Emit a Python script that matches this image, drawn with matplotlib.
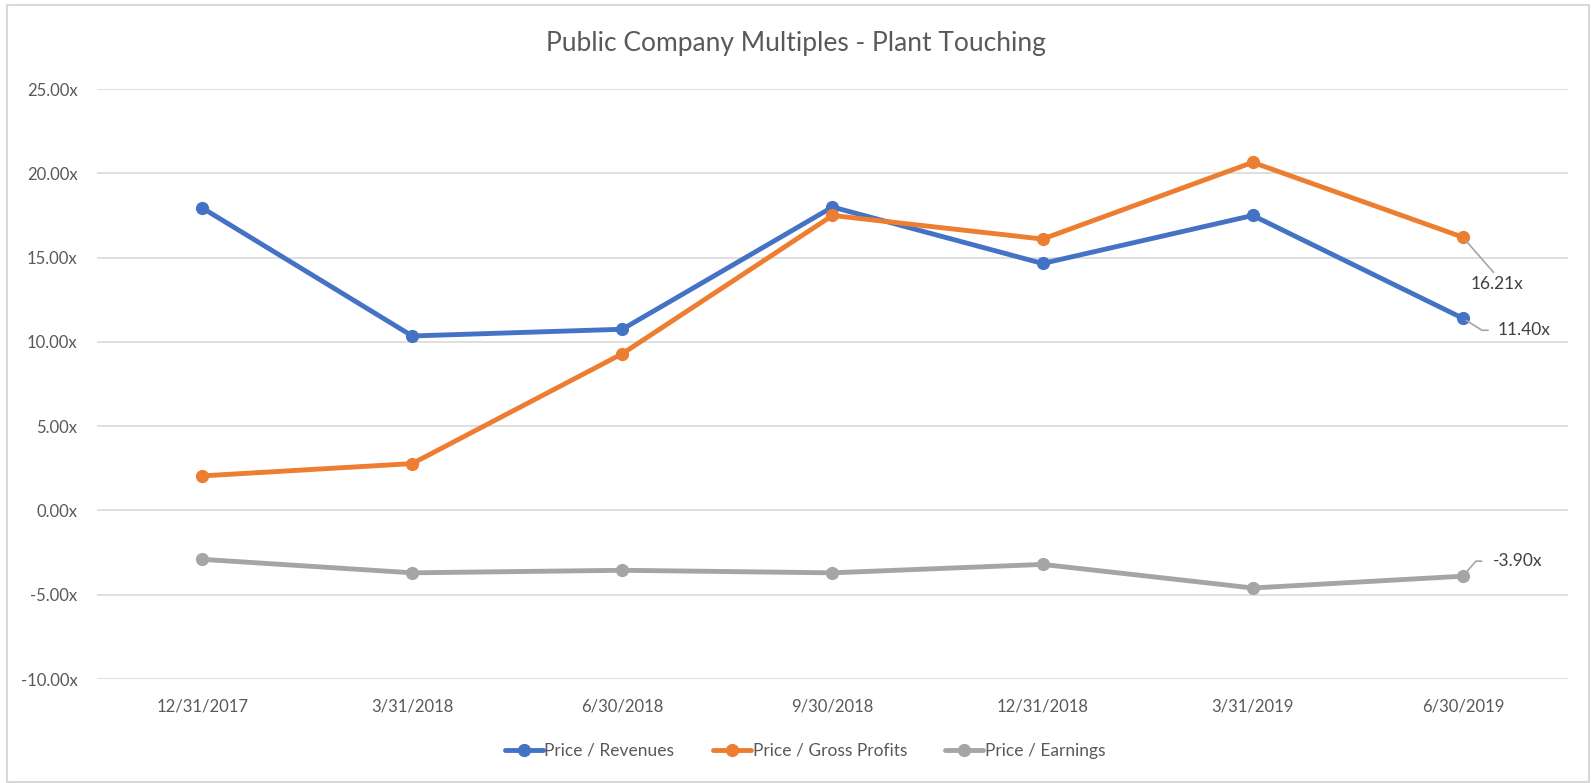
import matplotlib.pyplot as plt
from matplotlib.patches import Rectangle
from matplotlib.ticker import FuncFormatter

# Data
quarters = ["12/31/2017", "3/31/2018", "6/30/2018", "9/30/2018",
            "12/31/2018", "3/31/2019", "6/30/2019"]
price_revenues = [17.95, 10.35, 10.75, 18.00, 14.65, 17.50, 11.40]
price_gross_profits = [2.05, 2.78, 9.30, 17.50, 16.10, 20.65, 16.21]
price_earnings = [-2.90, -3.70, -3.55, -3.70, -3.20, -4.60, -3.90]

BLUE = "#4472C4"
ORANGE = "#ED7D31"
GRAY = "#A5A5A5"
TEXT = "#595959"

plt.rcParams['font.family'] = ['Lato', 'DejaVu Sans']

fig = plt.figure(figsize=(15.91, 7.83), dpi=100)
ax = fig.add_axes([0.061, 0.1328, 0.9245, 0.7535])

# chart frame
fig.patches.append(Rectangle((0.0044, 0.001), 0.9942, 0.9925, transform=fig.transFigure,
                             fill=False, edgecolor="#D9D9D9", linewidth=1.5))

x = range(len(quarters))
series = [
    (price_revenues, BLUE, "Price / Revenues"),
    (price_gross_profits, ORANGE, "Price / Gross Profits"),
    (price_earnings, GRAY, "Price / Earnings"),
]
for vals, col, lab in series:
    ax.plot(x, vals, color=col, linewidth=3.5, marker='o', markersize=8.5,
            solid_capstyle='round', label=lab, zorder=3)

ax.set_xlim(-0.5, 6.5)
ax.set_ylim(-10, 25)
ax.set_yticks(range(-10, 26, 5))
ax.yaxis.set_major_formatter(FuncFormatter(lambda v, p: f"{v:.2f}x"))
ax.set_xticks(list(x))
ax.set_xticklabels(quarters)
ax.tick_params(axis='both', length=0, labelsize=12, labelcolor=TEXT)
ax.tick_params(axis='y', pad=14)
ax.tick_params(axis='x', pad=14)
ax.grid(axis='y', color="#D9D9D9", linewidth=1.2)
ax.set_axisbelow(True)
for s in ax.spines.values():
    s.set_visible(False)

# title is centred on the whole chart, not on the plot area
fig.text(0.5, 0.945, "Public Company Multiples - Plant Touching", fontsize=19,
         color=TEXT, ha='center', va='center')

# end-point data labels
last = len(quarters) - 1
lbl_kw = dict(textcoords='offset pixels', fontsize=12.5, color="#404040", va='center')
ax.annotate(f"{price_gross_profits[-1]:.2f}x", (last, price_gross_profits[-1]),
            xytext=(34, -47), ha='center',
            arrowprops=dict(arrowstyle='-', color=GRAY, lw=1.2, relpos=(0.5, 1.0),
                            shrinkA=1, shrinkB=3), **lbl_kw)
ax.annotate(f"{price_revenues[-1]:.2f}x", (last, price_revenues[-1]),
            xytext=(35, -12), ha='left',
            arrowprops=dict(arrowstyle='-', color=GRAY, lw=1.2, relpos=(0, 0.5),
                            shrinkA=5, shrinkB=3,
                            connectionstyle="angle,angleA=0,angleB=-32,rad=0"), **lbl_kw)
ax.annotate(f"{price_earnings[-1]:.2f}x", (last, price_earnings[-1]),
            xytext=(30, 15), ha='left',
            arrowprops=dict(arrowstyle='-', color=GRAY, lw=1.2, relpos=(0, 0.5),
                            shrinkA=6, shrinkB=3,
                            connectionstyle="angle,angleA=0,angleB=49,rad=0"), **lbl_kw)

leg = fig.legend(loc='center', bbox_to_anchor=(0.506, 0.041), ncol=3, frameon=False,
                 fontsize=12.5, handlelength=2.2, handletextpad=0.1, columnspacing=2.2)
for t in leg.get_texts():
    t.set_color(TEXT)

fig.savefig("out.png", dpi=100)
